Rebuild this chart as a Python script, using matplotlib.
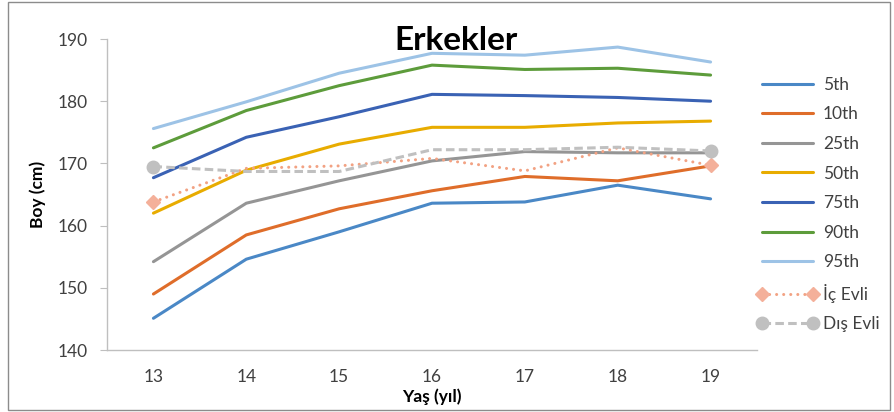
import matplotlib
matplotlib.use("Agg")
import matplotlib.pyplot as plt
from matplotlib.patches import Rectangle

plt.rcParams["font.family"] = ["Lato", "DejaVu Sans"]

ages = [13, 14, 15, 16, 17, 18, 19]
age_labels = ["13", "14", "15", "16", "17", "18", "19"]
y_ticks = [140, 150, 160, 170, 180, 190]

p5 = [145.1, 154.6, 159.0, 163.6, 163.8, 166.5, 164.3]
p10 = [149.0, 158.5, 162.7, 165.6, 167.9, 167.2, 169.6]
p25 = [154.2, 163.6, 167.2, 170.4, 171.9, 171.7, 171.7]
p50 = [162.0, 168.9, 173.1, 175.8, 175.8, 176.5, 176.8]
p75 = [167.7, 174.2, 177.5, 181.1, 180.9, 180.6, 180.0]
p90 = [172.5, 178.5, 182.5, 185.8, 185.1, 185.3, 184.2]
p95 = [175.6, 179.9, 184.5, 187.7, 187.4, 188.7, 186.3]
ic_evli = [163.8, 169.2, 169.6, 170.8, 168.8, 172.5, 169.7]
dis_evli = [169.5, 168.7, 168.7, 172.2, 172.2, 172.6, 172.0]

percentiles = [
    ("5th", p5, "#4a88c6"),
    ("10th", p10, "#df6d2a"),
    ("25th", p25, "#959595"),
    ("50th", p50, "#e8ac00"),
    ("75th", p75, "#3a62b4"),
    ("90th", p90, "#5d9c3b"),
    ("95th", p95, "#9dc3e6"),
]

fig = plt.figure(figsize=(8.94, 4.12), dpi=100)
ax = fig.add_axes([107 / 894, 62 / 412, 650 / 894, 311 / 412])

for label, values, color in percentiles:
    ax.plot(ages, values, color=color, linewidth=2.2, label=label,
            solid_capstyle="round")

# dotted series: round dots, markers only at first and last age
ax.plot(ages, ic_evli, color="#f2a283", linewidth=2.2, linestyle=(0, (0.01, 2.3)),
        dash_capstyle="round", marker="D", markersize=7, markevery=[0, 6],
        markerfacecolor="#f4b09a", markeredgecolor="#f4b09a", label="İç Evli")
ax.plot(ages, dis_evli, color="#c0c0c0", linewidth=2.2, linestyle=(0, (2.8, 1.4)),
        marker="o", markersize=9, markevery=[0, 6],
        markerfacecolor="#c0c0c0", markeredgecolor="#c0c0c0", label="Dış Evli")

ax.set_xlim(12.5, 19.5)
ax.set_ylim(140, 190)
ax.set_xticks(ages)
ax.set_xticklabels(age_labels)
ax.set_yticks(y_ticks)

for side in ("top", "right"):
    ax.spines[side].set_visible(False)
for side in ("left", "bottom"):
    ax.spines[side].set_color("#bfbfbf")
    ax.spines[side].set_linewidth(1.0)

ax.tick_params(axis="y", direction="out", length=5, color="#bfbfbf",
               labelsize=12.5, labelcolor="#404040", pad=9)
ax.tick_params(axis="x", length=0, labelsize=12.5, labelcolor="#404040", pad=14)

ax.set_xlabel("Yaş (yıl)", fontsize=12.5, fontweight="bold", labelpad=2)
ax.set_ylabel("Boy (cm)", fontsize=12.5, fontweight="bold", labelpad=8)

fig.text(456 / 894, 1 - 40 / 412, "Erkekler", fontsize=24, fontweight="bold",
         ha="center", va="center")

legend = fig.legend(loc="upper left", bbox_to_anchor=(750 / 894, 1 - 70 / 412),
                    frameon=False, fontsize=12.5, handlelength=3.5,
                    handletextpad=0.3, labelspacing=0.78, borderaxespad=0,
                    numpoints=2, labelcolor="#404040")

fig.patches.append(Rectangle((8 / 894, 2 / 412), 882 / 894, 408 / 412,
                             transform=fig.transFigure, fill=False,
                             edgecolor="#8c8c8c", linewidth=1.0))

fig.savefig("out.png", dpi=100)
